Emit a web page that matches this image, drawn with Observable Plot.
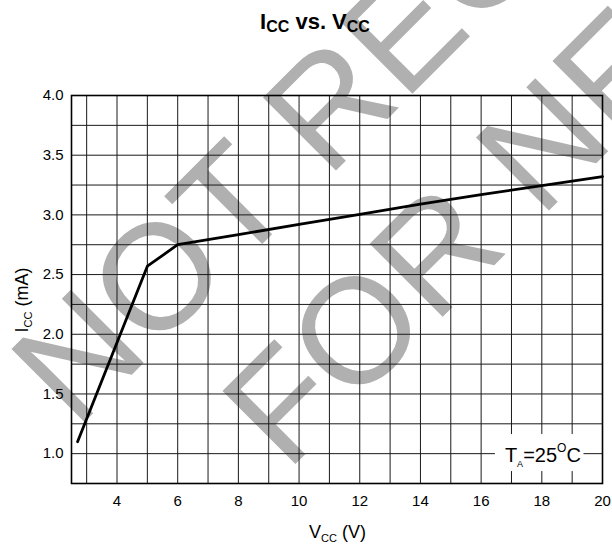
<!DOCTYPE html>
<html>
<head>
<meta charset="utf-8">
<script src="https://cdn.jsdelivr.net/npm/d3@7"></script>
<script src="https://cdn.jsdelivr.net/npm/@observablehq/plot@0.6"></script>
<style>
  html, body { margin: 0; padding: 0; background: white; overflow: hidden; }
  #chart { width: 612px; height: 548px; }
</style>
</head>
<body>
<div id="chart"></div>
<script>
// ---- data ----
const vcc = [2.7, 5, 6, 8, 10, 12, 14, 16, 18, 20];
const icc = [1.10, 2.57, 2.75, 2.835, 2.92, 3.005, 3.09, 3.17, 3.245, 3.32];
const xTicks = [4, 6, 8, 10, 12, 14, 16, 18, 20];
const yTicks = [1.0, 1.5, 2.0, 2.5, 3.0, 3.5, 4.0];
const xGrid = [3, 4, 5, 6, 7, 8, 9, 10, 11, 12, 13, 14, 15, 16, 17, 18, 19];
const yGrid = [1.0, 1.25, 1.5, 1.75, 2.0, 2.25, 2.5, 2.75, 3.0, 3.25, 3.5, 3.75];
const watermark = ["NOT RECOMMENDED", "FOR NEW DESIGN"];

const curve = vcc.map((v, i) => ({v, i: icc[i]}));
const FONT = "Liberation Sans, Arial, Helvetica, sans-serif";

const plot = Plot.plot({
  width: 612,
  height: 548,
  marginLeft: 71,
  marginRight: 10,
  marginTop: 95,
  marginBottom: 65,
  style: {background: "white", fontFamily: FONT, fontSize: "15px", color: "black"},
  x: {domain: [2.5, 20], ticks: xTicks, tickSize: 0, tickPadding: 12, label: null},
  y: {domain: [0.75, 4], ticks: yTicks, tickSize: 0, tickPadding: 8, label: null,
      tickFormat: d => d.toFixed(1)},
  marks: [
    Plot.ruleX(xGrid, {stroke: "#1a1a1a", strokeWidth: 1}),
    Plot.ruleY(yGrid, {stroke: "#1a1a1a", strokeWidth: 1}),
    Plot.rect([0], {x1: 16.47, x2: 19.39, y1: 0.85, y2: 1.16, fill: "white"}),
    Plot.frame({stroke: "black", strokeWidth: 1.6}),
    Plot.line(curve, {x: "v", y: "i", stroke: "black", strokeWidth: 2.8, strokeLinejoin: "miter"})
  ]
});

document.getElementById("chart").appendChild(plot);

const svg = d3.select(plot);
const xs = plot.scale("x"), ys = plot.scale("y");

// watermark under everything
const wm = svg.insert("g", ":first-child")
  .attr("font-family", FONT)
  .attr("font-size", 150)
  .attr("fill", "#b0b0b0")
  .attr("text-anchor", "middle");
const wmPos = [[628.7, -122.3], [755.3, 4.2]];
watermark.forEach((t, k) => {
  wm.append("text")
    .attr("transform", `translate(${wmPos[k][0]},${wmPos[k][1]}) rotate(-45)`)
    .text(t);
});

function rich(parts, attrs) {
  const t = svg.append("text").attr("font-family", FONT).attr("fill", "black");
  for (const k in attrs) t.attr(k, attrs[k]);
  parts.forEach(p => {
    const ts = t.append("tspan").text(p.t).attr("font-size", p.s);
    if (p.dy) ts.attr("dy", p.dy);
    if (p.w) ts.attr("font-weight", p.w);
  });
  return t;
}

// title
rich([
  {t: "I", s: 22, w: "bold"},
  {t: "CC", s: 16, dy: 3, w: "bold"},
  {t: " vs. V", s: 22, dy: -3, w: "bold"},
  {t: "CC", s: 16, dy: 3, w: "bold"}
], {x: 315, y: 29, "text-anchor": "middle"});

// y label
rich([
  {t: "I", s: 18},
  {t: "CC", s: 11, dy: 4},
  {t: " (mA)", s: 18, dy: -4}
], {transform: "translate(28,300) rotate(-90)", "text-anchor": "middle"});

// x label
rich([
  {t: "V", s: 18},
  {t: "CC", s: 11, dy: 4},
  {t: " (V)", s: 18, dy: -4}
], {x: 337.5, y: 538, "text-anchor": "middle"});

// annotation
rich([
  {t: "T", s: 20},
  {t: "A", s: 9, dy: 5},
  {t: "=25", s: 20, dy: -5},
  {t: "O", s: 12, dy: -10},
  {t: "C", s: 20, dy: 10}
], {x: xs.apply(16.8), y: ys.apply(0.926), "text-anchor": "start"});
</script>
</body>
</html>
